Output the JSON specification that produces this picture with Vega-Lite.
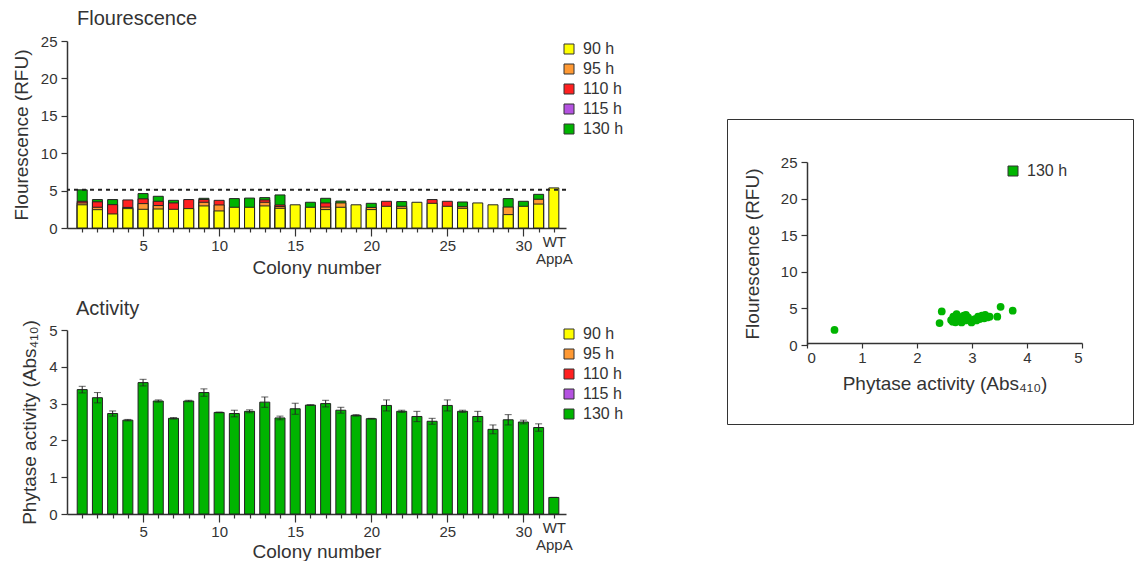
{
  "$schema": "https://vega.github.io/schema/vega-lite/v6.json",
  "padding": {"left": 12, "top": 9, "right": 0, "bottom": 0},
  "datasets": {
    "fluor": [
      {"pos": 1, "t": "130 h", "h": 130, "v": 5.1}, {"pos": 1, "t": "110 h", "h": 110, "v": 3.57}, {"pos": 1, "t": "95 h", "h": 95, "v": 3.35}, {"pos": 1, "t": "90 h", "h": 90, "v": 3.1},
      {"pos": 2, "t": "130 h", "h": 130, "v": 3.8}, {"pos": 2, "t": "110 h", "h": 110, "v": 3.5}, {"pos": 2, "t": "95 h", "h": 95, "v": 2.77}, {"pos": 2, "t": "90 h", "h": 90, "v": 2.45},
      {"pos": 3, "t": "130 h", "h": 130, "v": 3.8}, {"pos": 3, "t": "110 h", "h": 110, "v": 3.12}, {"pos": 3, "t": "90 h", "h": 90, "v": 1.88},
      {"pos": 4, "t": "110 h", "h": 110, "v": 3.75}, {"pos": 4, "t": "95 h", "h": 95, "v": 2.75}, {"pos": 4, "t": "90 h", "h": 90, "v": 2.59},
      {"pos": 5, "t": "130 h", "h": 130, "v": 4.6}, {"pos": 5, "t": "110 h", "h": 110, "v": 3.9}, {"pos": 5, "t": "95 h", "h": 95, "v": 3.26}, {"pos": 5, "t": "90 h", "h": 90, "v": 2.5},
      {"pos": 6, "t": "130 h", "h": 130, "v": 4.24}, {"pos": 6, "t": "110 h", "h": 110, "v": 3.57}, {"pos": 6, "t": "95 h", "h": 95, "v": 3.0}, {"pos": 6, "t": "90 h", "h": 90, "v": 2.54},
      {"pos": 7, "t": "130 h", "h": 130, "v": 3.7}, {"pos": 7, "t": "110 h", "h": 110, "v": 3.35}, {"pos": 7, "t": "90 h", "h": 90, "v": 2.5},
      {"pos": 8, "t": "110 h", "h": 110, "v": 3.8}, {"pos": 8, "t": "90 h", "h": 90, "v": 2.59},
      {"pos": 9, "t": "130 h", "h": 130, "v": 3.97}, {"pos": 9, "t": "110 h", "h": 110, "v": 3.8}, {"pos": 9, "t": "95 h", "h": 95, "v": 3.44}, {"pos": 9, "t": "90 h", "h": 90, "v": 2.95},
      {"pos": 10, "t": "110 h", "h": 110, "v": 3.7}, {"pos": 10, "t": "95 h", "h": 95, "v": 3.08}, {"pos": 10, "t": "90 h", "h": 90, "v": 2.28},
      {"pos": 11, "t": "130 h", "h": 130, "v": 3.93}, {"pos": 11, "t": "90 h", "h": 90, "v": 2.77},
      {"pos": 12, "t": "130 h", "h": 130, "v": 4.0}, {"pos": 12, "t": "90 h", "h": 90, "v": 2.77},
      {"pos": 13, "t": "130 h", "h": 130, "v": 4.06}, {"pos": 13, "t": "110 h", "h": 110, "v": 3.75}, {"pos": 13, "t": "95 h", "h": 95, "v": 3.44}, {"pos": 13, "t": "90 h", "h": 90, "v": 2.95},
      {"pos": 14, "t": "130 h", "h": 130, "v": 4.42}, {"pos": 14, "t": "110 h", "h": 110, "v": 3.08}, {"pos": 14, "t": "95 h", "h": 95, "v": 2.86}, {"pos": 14, "t": "90 h", "h": 90, "v": 2.63},
      {"pos": 15, "t": "90 h", "h": 90, "v": 3.1},
      {"pos": 16, "t": "130 h", "h": 130, "v": 3.44}, {"pos": 16, "t": "90 h", "h": 90, "v": 2.77},
      {"pos": 17, "t": "130 h", "h": 130, "v": 3.97}, {"pos": 17, "t": "110 h", "h": 110, "v": 3.35}, {"pos": 17, "t": "95 h", "h": 95, "v": 2.8}, {"pos": 17, "t": "90 h", "h": 90, "v": 2.46},
      {"pos": 18, "t": "130 h", "h": 130, "v": 3.6}, {"pos": 18, "t": "95 h", "h": 95, "v": 3.35}, {"pos": 18, "t": "90 h", "h": 90, "v": 2.77},
      {"pos": 19, "t": "90 h", "h": 90, "v": 3.1},
      {"pos": 20, "t": "130 h", "h": 130, "v": 3.3}, {"pos": 20, "t": "95 h", "h": 95, "v": 2.75}, {"pos": 20, "t": "90 h", "h": 90, "v": 2.46},
      {"pos": 21, "t": "110 h", "h": 110, "v": 3.57}, {"pos": 21, "t": "90 h", "h": 90, "v": 2.9},
      {"pos": 22, "t": "130 h", "h": 130, "v": 3.53}, {"pos": 22, "t": "95 h", "h": 95, "v": 2.9}, {"pos": 22, "t": "90 h", "h": 90, "v": 2.63},
      {"pos": 23, "t": "90 h", "h": 90, "v": 3.44},
      {"pos": 24, "t": "110 h", "h": 110, "v": 3.8}, {"pos": 24, "t": "90 h", "h": 90, "v": 3.3},
      {"pos": 25, "t": "110 h", "h": 110, "v": 3.57}, {"pos": 25, "t": "90 h", "h": 90, "v": 2.9},
      {"pos": 26, "t": "130 h", "h": 130, "v": 3.48}, {"pos": 26, "t": "95 h", "h": 95, "v": 2.85}, {"pos": 26, "t": "90 h", "h": 90, "v": 2.63},
      {"pos": 27, "t": "90 h", "h": 90, "v": 3.35},
      {"pos": 28, "t": "90 h", "h": 90, "v": 3.1},
      {"pos": 29, "t": "130 h", "h": 130, "v": 3.93}, {"pos": 29, "t": "95 h", "h": 95, "v": 2.8}, {"pos": 29, "t": "90 h", "h": 90, "v": 1.79},
      {"pos": 30, "t": "130 h", "h": 130, "v": 3.57}, {"pos": 30, "t": "90 h", "h": 90, "v": 2.9},
      {"pos": 31, "t": "130 h", "h": 130, "v": 4.5}, {"pos": 31, "t": "95 h", "h": 95, "v": 3.84}, {"pos": 31, "t": "90 h", "h": 90, "v": 3.2},
      {"pos": 32, "t": "90 h", "h": 90, "v": 5.36}
    ],
    "act": [
      {"pos": 1, "t": "130 h", "v": 3.38, "e": 0.09}, {"pos": 2, "t": "130 h", "v": 3.16, "e": 0.14},
      {"pos": 3, "t": "130 h", "v": 2.73, "e": 0.07}, {"pos": 4, "t": "130 h", "v": 2.55, "e": 0.02},
      {"pos": 5, "t": "130 h", "v": 3.57, "e": 0.09}, {"pos": 6, "t": "130 h", "v": 3.07, "e": 0.03},
      {"pos": 7, "t": "130 h", "v": 2.6, "e": 0.02}, {"pos": 8, "t": "130 h", "v": 3.07, "e": 0.02},
      {"pos": 9, "t": "130 h", "v": 3.3, "e": 0.1}, {"pos": 10, "t": "130 h", "v": 2.76, "e": 0.01},
      {"pos": 11, "t": "130 h", "v": 2.73, "e": 0.09}, {"pos": 12, "t": "130 h", "v": 2.79, "e": 0.04},
      {"pos": 13, "t": "130 h", "v": 3.04, "e": 0.14}, {"pos": 14, "t": "130 h", "v": 2.61, "e": 0.05},
      {"pos": 15, "t": "130 h", "v": 2.86, "e": 0.15}, {"pos": 16, "t": "130 h", "v": 2.96, "e": 0.01},
      {"pos": 17, "t": "130 h", "v": 3.0, "e": 0.09}, {"pos": 18, "t": "130 h", "v": 2.82, "e": 0.08},
      {"pos": 19, "t": "130 h", "v": 2.68, "e": 0.02}, {"pos": 20, "t": "130 h", "v": 2.59, "e": 0.01},
      {"pos": 21, "t": "130 h", "v": 2.95, "e": 0.15}, {"pos": 22, "t": "130 h", "v": 2.79, "e": 0.03},
      {"pos": 23, "t": "130 h", "v": 2.65, "e": 0.14}, {"pos": 24, "t": "130 h", "v": 2.52, "e": 0.08},
      {"pos": 25, "t": "130 h", "v": 2.95, "e": 0.15}, {"pos": 26, "t": "130 h", "v": 2.79, "e": 0.03},
      {"pos": 27, "t": "130 h", "v": 2.65, "e": 0.14}, {"pos": 28, "t": "130 h", "v": 2.3, "e": 0.12},
      {"pos": 29, "t": "130 h", "v": 2.56, "e": 0.14}, {"pos": 30, "t": "130 h", "v": 2.5, "e": 0.05},
      {"pos": 31, "t": "130 h", "v": 2.35, "e": 0.1}, {"pos": 32, "t": "130 h", "v": 0.45, "e": 0.0}
    ],
    "scatter": [
      {"a": 0.5, "f": 2.05}, {"a": 2.41, "f": 3.0}, {"a": 2.45, "f": 4.58}, {"a": 2.62, "f": 3.4},
      {"a": 2.65, "f": 3.18}, {"a": 2.66, "f": 3.86}, {"a": 2.69, "f": 3.65}, {"a": 2.7, "f": 3.1},
      {"a": 2.72, "f": 4.23}, {"a": 2.75, "f": 3.55}, {"a": 2.78, "f": 3.8}, {"a": 2.81, "f": 3.08},
      {"a": 2.85, "f": 4.0}, {"a": 2.88, "f": 3.35}, {"a": 2.89, "f": 4.13}, {"a": 2.93, "f": 3.77},
      {"a": 2.95, "f": 3.4}, {"a": 2.99, "f": 3.08}, {"a": 3.05, "f": 3.55}, {"a": 3.08, "f": 3.35},
      {"a": 3.11, "f": 3.86}, {"a": 3.14, "f": 3.55}, {"a": 3.18, "f": 4.0}, {"a": 3.22, "f": 3.65},
      {"a": 3.24, "f": 4.13}, {"a": 3.28, "f": 3.77}, {"a": 3.32, "f": 3.86}, {"a": 3.46, "f": 3.86},
      {"a": 3.52, "f": 5.22}, {"a": 3.74, "f": 4.68}
    ],
    "ref": [{"y": 5.1}],
    "none": []
  },
  "hconcat": [
    {
      "vconcat": [
        {
          "width": 499,
          "height": 187,
          "title": {"text": "Flourescence", "anchor": "start", "frame": "group", "dx": 10, "offset": 5},
          "layer": [
            {
              "data": {"name": "fluor"},
              "mark": {"type": "bar", "size": 10, "stroke": "#222", "strokeWidth": 1},
              "encoding": {
                "x": {"field": "pos", "type": "quantitative",
                  "scale": {"domain": [0, 32.8], "nice": false, "zero": false, "padding": 0},
                  "axis": {"title": "Colony number", "values": [1,2,3,4,5,6,7,8,9,10,11,12,13,14,15,16,17,18,19,20,21,22,23,24,25,26,27,28,29,30,31,32],
                    "labelExpr": "datum.value == 32 ? ['WT', 'AppA'] : (datum.value % 5 == 0 ? datum.label : '')",
                    "tickSize": {"condition": {"test": "datum.value % 5 == 0", "value": 8}, "value": 4},
                    "labelOverlap": false, "labelFlush": false, "labelBound": false, "labelPadding": 2, "titleY": 30}},
                "y": {"field": "v", "type": "quantitative", "stack": null, "title": "Flourescence (RFU)",
                  "scale": {"domain": [0, 25], "nice": false},
                  "axis": {"values": [0, 5, 10, 15, 20, 25], "labelOverlap": false, "labelBound": false}},
                "color": {"field": "t", "type": "nominal",
                  "scale": {"domain": ["90 h", "95 h", "110 h", "115 h", "130 h"], "range": ["#FFFF00", "#FF9933", "#FF2020", "#B452E0", "#00B400"]},
                  "legend": {"title": null, "orient": "none", "legendX": 494, "legendY": 0}},
                "order": {"field": "h", "sort": "descending"}
              }
            },
            {
              "data": {"name": "ref"},
              "mark": {"type": "rule", "strokeDash": [4, 4], "strokeWidth": 2, "color": "#222"},
              "encoding": {"y": {"field": "y", "type": "quantitative", "title": "Flourescence (RFU)",
                "scale": {"domain": [0, 25], "nice": false},
                "axis": {"values": [0, 5, 10, 15, 20, 25], "labelOverlap": false, "labelBound": false}}}
            }
          ]
        },
        {
          "width": 499,
          "height": 184,
          "title": {"text": "Activity", "anchor": "start", "frame": "group", "dx": 9, "offset": 1},
          "data": {"name": "act"},
          "layer": [
            {
              "mark": {"type": "bar", "size": 10, "stroke": "#222", "strokeWidth": 1},
              "encoding": {
                "x": {"field": "pos", "type": "quantitative", "title": "Colony number",
                  "scale": {"domain": [0, 32.8], "nice": false, "zero": false, "padding": 0},
                  "axis": {"values": [1,2,3,4,5,6,7,8,9,10,11,12,13,14,15,16,17,18,19,20,21,22,23,24,25,26,27,28,29,30,31,32],
                    "labelExpr": "datum.value == 32 ? ['WT', 'AppA'] : (datum.value % 5 == 0 ? datum.label : '')",
                    "tickSize": {"condition": {"test": "datum.value % 5 == 0", "value": 8}, "value": 4},
                    "labelOverlap": false, "labelFlush": false, "labelBound": false, "labelPadding": 2, "titleY": 28}},
                "y": {"field": "v", "type": "quantitative", "title": "Phytase activity (Abs₄₁₀)",
                  "scale": {"domain": [0, 5], "nice": false},
                  "axis": {"values": [0, 1, 2, 3, 4, 5], "labelOverlap": false, "labelBound": false}},
                "color": {"field": "t", "type": "nominal",
                  "scale": {"domain": ["90 h", "95 h", "110 h", "115 h", "130 h"], "range": ["#FFFF00", "#FF9933", "#FF2020", "#B452E0", "#00B400"]},
                  "legend": {"title": null, "orient": "none", "legendX": 494, "legendY": -4}}
              }
            },
            {
              "mark": {"type": "errorbar", "color": "#222", "ticks": {"size": 7, "thickness": 1}, "thickness": 1},
              "encoding": {
                "x": {"field": "pos", "type": "quantitative", "title": "Colony number",
                  "scale": {"domain": [0, 32.8], "nice": false, "zero": false, "padding": 0},
                  "axis": {"values": [1,2,3,4,5,6,7,8,9,10,11,12,13,14,15,16,17,18,19,20,21,22,23,24,25,26,27,28,29,30,31,32],
                    "labelExpr": "datum.value == 32 ? ['WT', 'AppA'] : (datum.value % 5 == 0 ? datum.label : '')",
                    "tickSize": {"condition": {"test": "datum.value % 5 == 0", "value": 8}, "value": 4},
                    "labelOverlap": false, "labelFlush": false, "labelBound": false, "labelPadding": 2, "titleY": 28}},
                "y": {"field": "v", "type": "quantitative", "title": "Phytase activity (Abs₄₁₀)",
                  "scale": {"domain": [0, 5], "nice": false},
                  "axis": {"values": [0, 1, 2, 3, 4, 5], "labelOverlap": false, "labelBound": false}},
                "yError": {"field": "e"}
              }
            }
          ]
        }
      ],
      "spacing": 21,
      "resolve": {"scale": {"color": "independent"}, "legend": {"color": "independent"}}
    },
    {
      "vconcat": [
        {
          "width": 406,
          "height": 77,
          "data": {"name": "none"},
          "mark": "point"
        },
        {
          "width": 406,
          "height": 305,
          "view": {"stroke": "#333", "strokeWidth": 1},
          "data": {"name": "scatter"},
          "mark": {"type": "point", "filled": true, "size": 60, "opacity": 1},
          "encoding": {
            "x": {"field": "a", "type": "quantitative",
              "scale": {"domain": [0, 5], "range": [80, 355], "nice": false, "zero": false},
              "axis": {"title": "Phytase activity (Abs₄₁₀)", "values": [0, 1, 2, 3, 4, 5], "offset": -81, "titlePadding": 9, "labelOverlap": false, "labelBound": false}},
            "y": {"field": "f", "type": "quantitative",
              "scale": {"domain": [0, 25], "range": [226, 43], "nice": false},
              "axis": {"title": "Flourescence (RFU)", "values": [0, 5, 10, 15, 20, 25], "offset": -80, "titlePadding": 18, "labelOverlap": false, "labelBound": false}},
            "color": {"datum": "130 h",
              "scale": {"domain": ["130 h"], "range": ["#00B400"]},
              "legend": {"title": null, "orient": "none", "legendX": 278, "legendY": 44}}
          }
        }
      ],
      "spacing": 0,
      "resolve": {"scale": {"color": "independent"}, "legend": {"color": "independent"}}
    }
  ],
  "spacing": 102,
  "resolve": {"scale": {"color": "independent"}, "legend": {"color": "independent"}},
  "config": {
    "font": "Liberation Sans",
    "view": {"stroke": null},
    "title": {"fontSize": 20, "fontWeight": "normal", "color": "#333", "font": "Liberation Sans"},
    "axis": {"grid": false, "labelFont": "Liberation Sans", "titleFont": "Liberation Sans", "labelFontSize": 15, "titleFontSize": 19, "titleFontWeight": "normal",
      "labelColor": "#333", "titleColor": "#333", "domainColor": "#333", "tickColor": "#333", "domainWidth": 1.5, "tickWidth": 1.2, "labelOverlap": false, "labelBound": false},
    "axisY": {"tickSize": 6, "labelPadding": 4, "titlePadding": 9},
    "legend": {"labelFont": "Liberation Sans", "labelFontSize": 16, "labelColor": "#333", "symbolType": "square", "symbolSize": 100,
      "symbolStrokeColor": "#333", "symbolStrokeWidth": 1, "symbolOpacity": 1, "rowPadding": 4, "labelOffset": 6}
  }
}
